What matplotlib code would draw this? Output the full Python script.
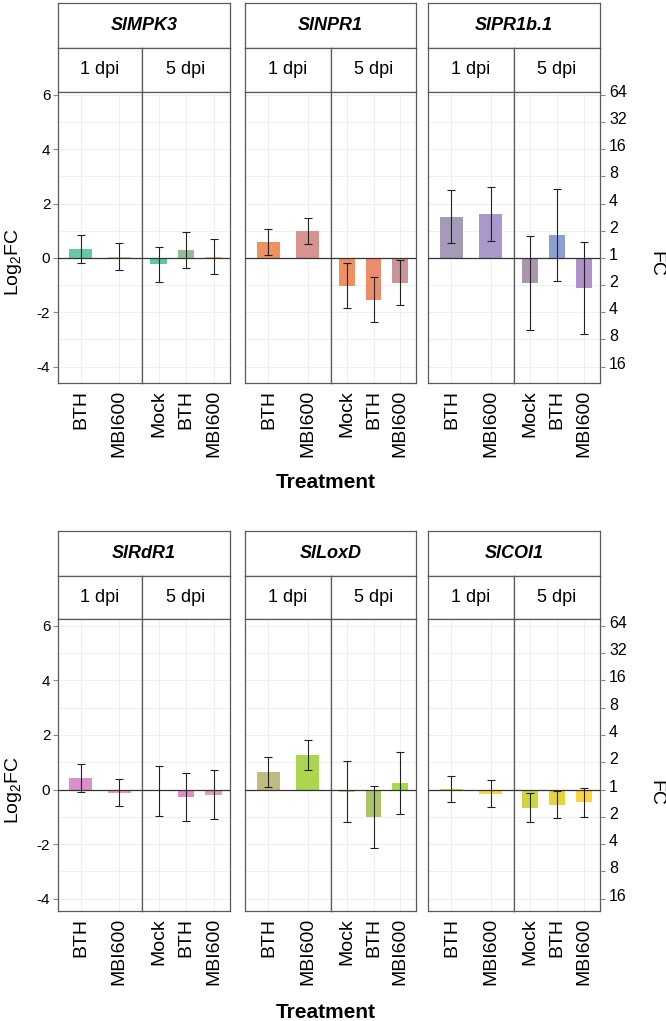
import matplotlib
matplotlib.use("Agg")
import matplotlib.pyplot as plt
import matplotlib.transforms as mtransforms

plt.rcParams['font.family'] = ['Liberation Sans', 'DejaVu Sans']
plt.rcParams['mathtext.fontset'] = 'custom'
plt.rcParams['mathtext.rm'] = 'Liberation Sans'
plt.rcParams['mathtext.default'] = 'regular'

# ---- data (log2 fold change, mean and error half-width) ----
genes = ["SlMPK3", "SlNPR1", "SlPR1b.1", "SlRdR1", "SlLoxD", "SlCOI1"]
trt_1dpi = ["BTH", "MBI600"]
trt_5dpi = ["Mock", "BTH", "MBI600"]

mean_1dpi = [[0.33, 0.05], [0.58, 0.99], [1.52, 1.61],
             [0.43, -0.11], [0.65, 1.27], [0.01, -0.15]]
err_1dpi = [[0.52, 0.50], [0.48, 0.48], [0.98, 0.98],
            [0.51, 0.51], [0.55, 0.56], [0.48, 0.49]]
mean_5dpi = [[-0.23, 0.30, 0.05], [-1.03, -1.54, -0.91], [-0.92, 0.84, -1.09],
             [-0.05, -0.28, -0.19], [-0.08, -1.01, 0.24], [-0.66, -0.55, -0.46]]
err_5dpi = [[0.64, 0.67, 0.63], [0.83, 0.82, 0.82], [1.72, 1.69, 1.69],
            [0.91, 0.89, 0.90], [1.12, 1.14, 1.14], [0.52, 0.51, 0.53]]

colors_1dpi = [["#66c9a4", "#cfc7a2"], ["#f0915f", "#d69390"], ["#a49bb8", "#a998cb"],
               ["#d991cb", "#e79bc2"], ["#bfbb82", "#acd64e"], ["#cbd63f", "#fdd53d"]]
colors_5dpi = [["#5fc7a1", "#97bb97", "#eab58c"], ["#ee9160", "#eb8d6b", "#c9939a"],
               ["#ab96ad", "#8e9fd2", "#ad92cb"], ["#d9a1c2", "#e08ccc", "#e3a0b3"],
               ["#d6c396", "#acc567", "#a9d84f"], ["#cdd63f", "#e6d43c", "#fdd43d"]]

log2_ticks = [-4, -2, 0, 2, 4, 6]
fc_ticks = [6, 5, 4, 3, 2, 1, 0, -1, -2, -3, -4]
fc_labels = ["64", "32", "16", "8", "4", "2", "1", "2", "4", "8", "16"]

# ---- layout in pixels ----
W, H = 666, 1021
fig = plt.figure(figsize=(W / 100, H / 100), dpi=100)


def box(x0, y0, x1, y1):
    return [x0 / W, 1 - y1 / H, (x1 - x0) / W, (y1 - y0) / H]


cols = [(58, 142, 230), (245, 331, 416), (428, 514, 600)]
# strip top, gene strip bottom, dpi strip bottom, panel bottom, ylim
rows = [(3, 48, 92, 383, (-4.6, 6.1)), (531, 576, 619, 911, (-4.45, 6.25))]
edge = "#5a5a5a"


def strip(x0, y0, x1, y1, text, **kw):
    s = fig.add_axes(box(x0, y0, x1, y1))
    s.set_xticks([])
    s.set_yticks([])
    for sp in s.spines.values():
        sp.set_color(edge)
        sp.set_linewidth(0.9)
    s.text(0.5, 0.5, text, ha='center', va='center', transform=s.transAxes, **kw)


def facet(x0, y0, x1, y1, ylim, means, errs, cols_, labels):
    ax = fig.add_axes(box(x0, y0, x1, y1))
    xs = list(range(len(labels)))
    ax.set_xlim(-0.6, len(labels) - 1 + 0.6)
    ax.set_ylim(*ylim)
    ax.set_yticks(log2_ticks)
    ax.set_yticks([-3, -1, 1, 3, 5], minor=True)
    ax.grid(True, which='both', color='#efefef', lw=0.7, zorder=0)
    ax.set_axisbelow(True)
    ax.bar(xs, means, width=0.6, color=cols_, zorder=2)
    ax.axhline(0, color='#333333', lw=0.9, zorder=3)
    ax.errorbar(xs, means, yerr=errs, fmt='none', ecolor='#222222',
                elinewidth=0.8, capsize=2.6, capthick=0.8, zorder=4)
    ax.set_xticks(xs)
    ax.set_xticklabels(labels, rotation=90, fontsize=14)
    ax.tick_params(axis='x', length=0, pad=5)
    ax.tick_params(axis='y', which='both', length=0, labelleft=False)
    for sp in ax.spines.values():
        sp.set_color(edge)
        sp.set_linewidth(0.9)
    return ax


for i, gene in enumerate(genes):
    top, gbot, dbot, pbot, ylim = rows[i // 3]
    xl, xm, xr = cols[i % 3]

    strip(xl, top, xr, gbot, gene, fontsize=13, fontweight='bold', fontstyle='italic')
    strip(xl, gbot, xm, dbot, "1 dpi", fontsize=13)
    strip(xm, gbot, xr, dbot, "5 dpi", fontsize=13)

    a1 = facet(xl, dbot, xm, pbot, ylim, mean_1dpi[i], err_1dpi[i], colors_1dpi[i], trt_1dpi)
    a5 = facet(xm, dbot, xr, pbot, ylim, mean_5dpi[i], err_5dpi[i], colors_5dpi[i], trt_5dpi)

    if i % 3 == 0:
        a1.tick_params(axis='y', which='major', length=3.5, color='#888888',
                       labelleft=True, labelsize=11, pad=2)
        a1.set_yticklabels([str(t) for t in log2_ticks])
    if i % 3 == 2:
        ar = a5.twinx()
        ar.set_ylim(*ylim)
        ar.set_yticks(fc_ticks)
        ar.set_yticklabels(fc_labels, fontsize=11.5)
        ar.tick_params(axis='y', length=3.5, color='#888888', pad=3)
        for sp in ar.spines.values():
            sp.set_visible(False)
        shift = mtransforms.ScaledTranslation(0, 4 / 100, fig.dpi_scale_trans)
        for lab in ar.get_yticklabels():
            lab.set_transform(lab.get_transform() + shift)

# ---- axis titles ----
for ylab_y, fc_y, tr_y in [(262, 264, 482), (790, 793, 1012)]:
    fig.text(14 / W, 1 - ylab_y / H, "Log$_2$FC", rotation=90, ha='center', va='center', fontsize=14)
    fig.text(656 / W, 1 - fc_y / H, "FC", rotation=-90, ha='center', va='center', fontsize=14)
    fig.text(326 / W, 1 - tr_y / H, "Treatment", ha='center', va='center',
             fontsize=15, fontweight='bold', family=['Liberation Sans Narrow', 'Liberation Sans'])

fig.savefig("out.png", dpi=100)
